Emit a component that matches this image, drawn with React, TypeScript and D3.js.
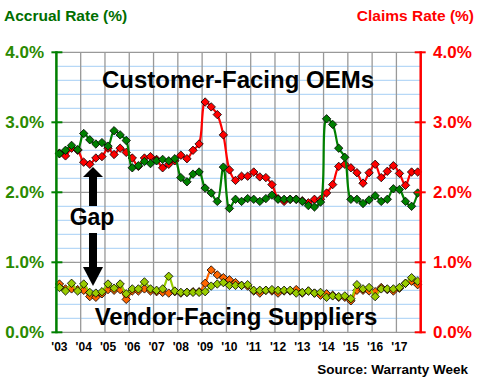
import React from "react";
import * as d3 from "d3";

const years = ["'03","'04","'05","'06","'07","'08","'09","'10","'11","'12","'13","'14","'15","'16","'17"];

const oemAccrual = [
  2.55, 2.60, 2.67, 2.61,
  2.84, 2.75, 2.69, 2.71,
  2.66, 2.88, 2.82, 2.74,
  2.35, 2.38, 2.44, 2.41,
  2.45, 2.47, 2.45, 2.48,
  2.21, 2.15, 2.26, 2.29,
  2.06, 1.99, 1.87, 2.36,
  1.77, 1.90, 1.87, 1.91,
  1.90, 1.87, 1.91, 1.96,
  1.90, 1.90, 1.90, 1.90,
  1.87, 1.81, 1.79, 1.86,
  3.05, 2.97, 2.63, 2.50,
  1.90, 1.90, 1.84, 1.89,
  1.95, 1.87, 1.90, 2.05,
  2.04, 1.87, 1.80, 1.99,
];

const oemClaims = [
  2.56, 2.52, 2.63, 2.60,
  2.43, 2.40, 2.49, 2.51,
  2.63, 2.54, 2.63, 2.57,
  2.49, 2.37, 2.49, 2.51,
  2.47, 2.35, 2.40, 2.45,
  2.53, 2.48, 2.60, 2.69,
  3.29, 3.22, 3.11, 2.82,
  2.32, 2.17, 2.23, 2.23,
  2.29, 2.22, 2.21, 2.11,
  1.91, 1.87, 1.90, 1.90,
  1.88, 1.85, 1.90, 1.90,
  1.99, 2.11, 2.37, 2.40,
  2.35, 2.28, 2.13, 2.28,
  2.40, 2.21, 2.30, 2.38,
  2.27, 2.10, 2.29, 2.29,
];

const supAccrual = [
  0.64, 0.59, 0.70, 0.59,
  0.69, 0.57, 0.56, 0.58,
  0.69, 0.63, 0.69, 0.55,
  0.62, 0.62, 0.72, 0.62,
  0.60, 0.62, 0.80, 0.59,
  0.57, 0.57, 0.57, 0.57,
  0.58, 0.66, 0.69, 0.71,
  0.67, 0.67, 0.67, 0.68,
  0.60, 0.60, 0.60, 0.61,
  0.60, 0.60, 0.60, 0.56,
  0.57, 0.59, 0.56, 0.57,
  0.50, 0.52, 0.51, 0.52,
  0.48, 0.68, 0.62, 0.64,
  0.51, 0.62, 0.62, 0.62,
  0.64, 0.70, 0.78, 0.73,
];

const supClaims = [
  0.69, 0.62, 0.62, 0.61,
  0.60, 0.51, 0.50, 0.55,
  0.61, 0.60, 0.61, 0.47,
  0.59, 0.59, 0.62, 0.59,
  0.58, 0.57, 0.56, 0.58,
  0.56, 0.57, 0.58, 0.58,
  0.70, 0.89, 0.82, 0.78,
  0.75, 0.71, 0.67, 0.66,
  0.59, 0.56, 0.60, 0.59,
  0.56, 0.59, 0.59, 0.61,
  0.56, 0.59, 0.56, 0.53,
  0.55, 0.53, 0.50, 0.50,
  0.45, 0.60, 0.60, 0.59,
  0.58, 0.64, 0.61, 0.59,
  0.63, 0.70, 0.73, 0.68,
];

const leftTicks = [0, 1, 2, 3, 4];
const tickLabels = ["0.0%", "1.0%", "2.0%", "3.0%", "4.0%"];

const W = 480, H = 380;
const FONT = "'Liberation Sans', Arial, Helvetica, sans-serif";

export default function App() {
  const x = d3.scaleLinear().domain([0, 60]).range([56.4, 420.7]);
  const y = d3.scaleLinear().domain([0, 4]).range([332.3, 52.3]);
  const xq = (i: number) => x(i + 0.5);

  const line = d3
    .line<number>()
    .x((_, i) => xq(i))
    .y((d) => y(d))
    .curve(d3.curveCatmullRom.alpha(0.5));

  const minor = d3.range(0, 4.0001, 0.2).filter((v) => Math.abs(v - Math.round(v)) > 1e-6);
  const yearIdx = d3.range(0, 16);

  const diamond = (cx: number, cy: number, r = 4.2) =>
    `M${cx},${cy - r}L${cx + r},${cy}L${cx},${cy + r}L${cx - r},${cy}Z`;

  const series = [
    { data: oemClaims, color: "#ff0000" },
    { data: oemAccrual, color: "#008000" },
    { data: supClaims, color: "#ff6600" },
    { data: supAccrual, color: "#99cc00" },
  ];

  const x0 = x(0), x1 = x(60);
  const arrowX = 93;

  return (
    <svg width={W} height={H} style={{ position: "absolute", left: 0, top: 0, background: "#fff" }} fontFamily={FONT}>
      {minor.map((v) => (
        <line key={"mn" + v} x1={x0} x2={x1} y1={y(v)} y2={y(v)} stroke="#a6cff5" strokeWidth={1} />
      ))}
      {leftTicks.map((v) => (
        <line key={"mj" + v} x1={x0} x2={x1} y1={y(v)} y2={y(v)} stroke="#999" strokeWidth={1.3} />
      ))}
      {yearIdx.map((k) => (
        <line key={"v" + k} x1={x(k * 4)} x2={x(k * 4)} y1={y(4)} y2={y(0)} stroke="#999" strokeWidth={1.3} />
      ))}

      <text x={238} y={88} textAnchor="middle" fontSize={24} fontWeight="bold" fill="#000">Customer-Facing OEMs</text>
      <text x={236} y={325} textAnchor="middle" fontSize={24} fontWeight="bold" fill="#000">Vendor-Facing Suppliers</text>
      <text x={92} y={225} textAnchor="middle" fontSize={23} fontWeight="bold" fill="#000">Gap</text>
      <rect x={arrowX - 4} y={176} width={8} height={30} fill="#000" />
      <path d={`M${arrowX},167L${arrowX + 10},177L${arrowX - 10},177Z`} fill="#000" />
      <rect x={arrowX - 4} y={233} width={8} height={35} fill="#000" />
      <path d={`M${arrowX},286L${arrowX + 10},267L${arrowX - 10},267Z`} fill="#000" />

      {series.map((s, k) => (
        <g key={"s" + k}>
          <path d={line(s.data) || ""} fill="none" stroke={s.color} strokeWidth={2.2} />
          {s.data.map((v, i) => (
            <path key={i} d={diamond(xq(i), y(v))} fill={s.color} stroke="#000" strokeWidth={0.8} />
          ))}
        </g>
      ))}

      <line x1={x0} x2={x0} y1={y(4) - 1} y2={y(0) + 1} stroke="#008000" strokeWidth={2.5} />
      {leftTicks.map((v, k) => (
        <g key={"lt" + v}>
          <line x1={x0 - 5} x2={x0 + 6} y1={y(v)} y2={y(v)} stroke="#008000" strokeWidth={2} />
          <text x={44} y={y(v) + 6} textAnchor="end" fontSize={17} fontWeight="bold" fill="#2a8a00">{tickLabels[k]}</text>
        </g>
      ))}
      <line x1={x1} x2={x1} y1={y(4) - 1} y2={y(0) + 1} stroke="#ff0000" strokeWidth={2.5} />
      {leftTicks.map((v, k) => (
        <g key={"rt" + v}>
          <line x1={x1 - 6} x2={x1 + 5} y1={y(v)} y2={y(v)} stroke="#ff0000" strokeWidth={2} />
          <text x={433} y={y(v) + 6} textAnchor="start" fontSize={17} fontWeight="bold" fill="#ff0000">{tickLabels[k]}</text>
        </g>
      ))}

      {years.map((t, k) => (
        <text key={t} x={xq(k * 4)} y={350.5} textAnchor="middle" fontSize={12} fontWeight="bold" fill="#000">{t}</text>
      ))}

      <text x={4} y={21} fontSize={15.5} fontWeight="bold" fill="#006e00">Accrual Rate (%)</text>
      <text x={474} y={21} textAnchor="end" fontSize={15.5} fontWeight="bold" fill="#ff0000">Claims Rate (%)</text>
      <text x={468} y={374} textAnchor="end" fontSize={13.5} fontWeight="bold" fill="#000">Source: Warranty Week</text>
    </svg>
  );
}
